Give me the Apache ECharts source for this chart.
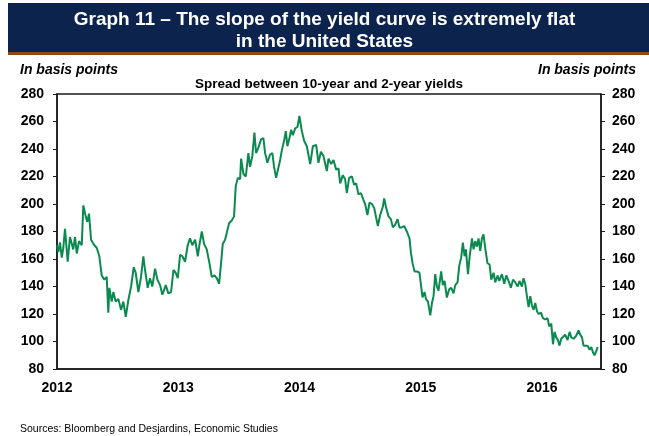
<!DOCTYPE html>
<html>
<head>
<meta charset="utf-8">
<script src="https://cdn.jsdelivr.net/npm/echarts@6/dist/echarts.min.js"></script>
<style>
  html, body { margin: 0; padding: 0; background: #fff; }
  #chart { width: 649px; height: 436px; }
</style>
</head>
<body>
<div id="chart"></div>
<script>
// Time in decimal years
const years = [
2012.000,2012.011,2012.025,2012.039,2012.052,2012.066,2012.088,2012.107,2012.134,2012.149,2012.163,2012.182,2012.204,2012.217,2012.237,2012.250,2012.264,2012.281,2012.300,2012.328,2012.349,2012.369,2012.390,2012.410,2012.423,2012.432,2012.451,2012.465,2012.484,2012.506,2012.528,2012.547,2012.567,2012.588,2012.611,2012.633,2012.649,2012.671,2012.693,2012.712,2012.726,2012.748,2012.767,2012.786,2012.809,2012.828,2012.850,2012.869,2012.897,2012.918,2012.941,2012.960,2012.979,2012.996,
2013.015,2013.034,2013.056,2013.078,2013.097,2013.116,2013.139,2013.161,2013.174,2013.194,2013.213,2013.235,2013.257,2013.276,2013.298,2013.318,2013.337,2013.353,2013.367,2013.386,2013.400,2013.419,2013.441,2013.460,2013.474,2013.491,2013.510,2013.518,2013.537,2013.557,2013.578,2013.592,2013.611,2013.628,2013.642,2013.661,2013.683,2013.702,2013.716,2013.735,2013.757,2013.776,2013.790,2013.807,2013.821,2013.840,2013.854,2013.875,2013.887,2013.900,2013.917,2013.931,2013.945,2013.964,2013.983,2013.999,
2014.019,2014.038,2014.060,2014.088,2014.110,2014.137,2014.156,2014.176,2014.197,2014.225,2014.239,2014.261,2014.280,2014.302,2014.321,2014.335,2014.357,2014.376,2014.390,2014.409,2014.432,2014.450,2014.467,2014.486,2014.506,2014.527,2014.541,2014.560,2014.577,2014.597,2014.616,2014.632,2014.646,2014.665,2014.687,2014.698,2014.715,2014.734,2014.753,2014.770,2014.789,2014.808,2014.824,2014.844,2014.863,2014.885,2014.907,2014.918,2014.932,2014.948,2014.968,2014.989,
2015.003,2015.014,2015.031,2015.042,2015.059,2015.078,2015.092,2015.105,2015.119,2015.133,2015.146,2015.168,2015.182,2015.196,2015.215,2015.234,2015.251,2015.270,2015.284,2015.303,2015.317,2015.333,2015.347,2015.361,2015.372,2015.389,2015.402,2015.422,2015.435,2015.449,2015.463,2015.476,2015.490,2015.504,2015.517,2015.531,2015.550,2015.567,2015.581,2015.600,2015.614,2015.633,2015.647,2015.669,2015.688,2015.705,2015.724,2015.743,2015.760,2015.779,2015.798,2015.814,2015.834,2015.847,2015.861,2015.875,2015.889,2015.903,2015.917,2015.930,2015.944,2015.958,2015.971,2015.991,
2016.007,2016.026,2016.045,2016.059,2016.076,2016.090,2016.103,2016.117,2016.131,2016.144,2016.158,2016.172,2016.191,2016.210,2016.227,2016.241,2016.260,2016.280,2016.301,2016.315,2016.329,2016.342,2016.356,2016.375,2016.392,2016.406,2016.420,2016.433,2016.447,2016.458
];

// Spread between 10-year and 2-year yields, basis points
const spread = [
170,165,172,161,168,182,158,176,167,176,164,173,170,199,191,187,193,174,171,168,162,148,145,147,121,139,129,136,129,131,123,129,118,130,140,154,150,136,147,162,152,139,146,140,153,145,141,134,141,135,136,152,150,146,
163,162,158,170,175,170,174,162,170,180,171,167,157,147,148,146,142,157,171,174,179,186,188,191,213,219,218,233,222,220,237,227,235,252,237,241,247,248,237,230,236,237,227,219,220,232,239,247,253,242,248,254,250,255,256,264,
253,246,242,229,242,243,230,238,235,224,233,229,232,225,226,215,221,218,208,219,220,214,215,207,208,203,200,192,201,200,197,190,184,192,198,204,197,191,189,183,185,189,183,183,184,180,175,165,157,151,151,150,
140,132,136,131,129,119,128,133,149,140,137,151,141,144,132,138,139,135,141,143,155,161,172,162,167,149,161,175,167,173,169,175,166,175,178,168,157,156,145,150,143,148,144,149,142,148,144,139,145,143,140,144,140,146,142,133,125,133,126,123,128,122,120,121,
117,116,117,111,113,98,107,103,101,97,102,101,105,101,107,103,102,104,108,105,103,97,96,97,94,96,92,90,93,96
];

// Axis ticks
const xMin = 2012, xMax = 2016.486;
const yMin = 80, yMax = 280, yStep = 20;

const chart = echarts.init(document.getElementById('chart'), null, { renderer: 'canvas' });

const FONT = 'Arial, "Liberation Sans", sans-serif';
const axisColor = '#1a1a1a';

const yAxisBase = {
  type: 'value',
  min: yMin, max: yMax, interval: yStep,
  splitLine: { show: false },
  axisLine: { show: true, lineStyle: { color: axisColor, width: 1.5 } },
  axisTick: { show: true, inside: false, length: 4, lineStyle: { color: axisColor, width: 1 } },
  axisLabel: { color: '#000', fontFamily: FONT, fontWeight: 'bold', fontSize: 14 }
};

chart.setOption({
  animation: false,
  backgroundColor: '#fff',
  graphic: [
    { type: 'rect', shape: { x: 8, y: 3, width: 641, height: 49 }, style: { fill: '#0c234d' }, z: 0 },
    { type: 'rect', shape: { x: 8, y: 52, width: 641, height: 3 }, style: { fill: '#8a4a12' }, z: 0 }
  ],
  title: [
    {
      text: 'Graph 11 – The slope of the yield curve is extremely flat\nin the United States',
      left: 'center', top: 9, padding: 0,
      textStyle: { color: '#fff', fontFamily: FONT, fontWeight: 'bold', fontSize: 19, lineHeight: 22 }
    },
    {
      text: 'In basis points', left: 20, top: 63, padding: 0,
      textStyle: { color: '#000', fontFamily: FONT, fontWeight: 'bold', fontStyle: 'italic', fontSize: 14 }
    },
    {
      text: 'In basis points', right: 13, top: 63, padding: 0,
      textStyle: { color: '#000', fontFamily: FONT, fontWeight: 'bold', fontStyle: 'italic', fontSize: 14 }
    },
    {
      text: 'Spread between 10-year and 2-year yields', left: 329, top: 77, textAlign: 'center', padding: 0,
      textStyle: { color: '#000', fontFamily: FONT, fontWeight: 'bold', fontSize: 13.5 }
    },
    {
      text: 'Sources: Bloomberg and Desjardins, Economic Studies', left: 20, top: 424, padding: 0,
      textStyle: { color: '#000', fontFamily: FONT, fontWeight: 'normal', fontSize: 10.5 }
    }
  ],
  grid: {
    left: 57, right: 48, top: 94, bottom: 67,
    show: true, borderColor: axisColor, borderWidth: 1.5, backgroundColor: 'transparent'
  },
  xAxis: {
    type: 'value',
    min: xMin, max: xMax, interval: 1,
    splitLine: { show: false },
    axisLine: { show: true, lineStyle: { color: axisColor, width: 1.5 } },
    axisTick: { show: false },
    axisLabel: {
      color: '#000', fontFamily: FONT, fontWeight: 'bold', fontSize: 14, margin: 12,
      showMaxLabel: false,
      formatter: v => Math.abs(v - Math.round(v)) < 1e-6 ? String(Math.round(v)) : ''
    }
  },
  yAxis: [
    Object.assign({}, yAxisBase, { position: 'left', axisLabel: Object.assign({}, yAxisBase.axisLabel, { margin: 13 }) }),
    Object.assign({}, yAxisBase, { position: 'right', axisLabel: Object.assign({}, yAxisBase.axisLabel, { margin: 11 }) })
  ],
  series: [{
    type: 'line',
    xAxisIndex: 0, yAxisIndex: 0,
    data: years.map((t, i) => [t, spread[i]]),
    showSymbol: false,
    lineStyle: { color: '#0a8a4e', width: 2 },
    itemStyle: { color: '#0a8a4e' }
  }]
});
</script>
</body>
</html>
